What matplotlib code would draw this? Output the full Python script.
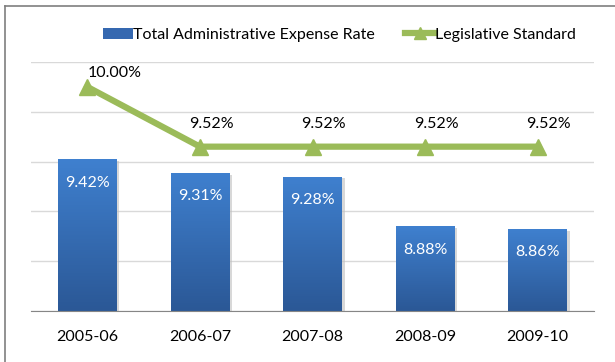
import numpy as np
import matplotlib
matplotlib.use("Agg")
import matplotlib.pyplot as plt
from matplotlib.lines import Line2D
from matplotlib.patches import Patch

plt.rcParams['font.family'] = ['Lato', 'DejaVu Sans']

years = ['2005-06', '2006-07', '2007-08', '2008-09', '2009-10']
expense_rate = [9.42, 9.31, 9.28, 8.88, 8.86]
legislative = [10.00, 9.52, 9.52, 9.52, 9.52]

bar_top = '#3F80CF'
bar_bottom = '#2B5896'
green = '#9BBB59'

fig = plt.figure(figsize=(6.15, 3.62), dpi=100)
ax = fig.add_axes([31 / 615, 1 - 311 / 362, 563 / 615, 249 / 362])

x = np.arange(len(years))
ax.set_xlim(-0.5, len(years) - 0.5)
ax.set_ylim(8.2, 10.2)
ax.set_yticks(np.arange(8.2, 10.21, 0.4))
ax.yaxis.grid(True, color='#D9D9D9', linewidth=1)
ax.set_axisbelow(True)
ax.tick_params(axis='y', left=False, labelleft=False)
ax.tick_params(axis='x', length=0, labelsize=11.5, pad=14)
ax.set_xticks(x)
ax.set_xticklabels(years)
for s in ['left', 'right', 'top']:
    ax.spines[s].set_visible(False)
ax.spines['bottom'].set_color('#868686')

# gradient bars
grad = np.linspace(0, 1, 100).reshape(-1, 1)
cmap = matplotlib.colors.LinearSegmentedColormap.from_list('b', [bar_bottom, bar_top])
bars = ax.bar(x, expense_rate, width=0.52, bottom=0, color='none', zorder=2)
for b in bars:
    bx, bw, bh = b.get_x(), b.get_width(), b.get_height()
    # soft shadow
    ax.bar(bx + bw / 2 + 0.025, bh - 0.015, width=bw, color='#BFBFBF', alpha=0.6, zorder=1.5)
    im = ax.imshow(grad, extent=[bx, bx + bw, 8.2, bh], origin='lower', aspect='auto',
                   cmap=cmap, zorder=2)
    im.set_clip_path(b)
    ax.text(bx + bw / 2, bh - 0.19, f'{bh:.2f}%', ha='center', va='center',
            color='white', fontsize=11.5, zorder=3)
ax.set_xlim(-0.5, len(years) - 0.5)
ax.set_ylim(8.2, 10.2)

ax.plot(x, legislative, color=green, linewidth=4.5, marker='^', markersize=11,
        zorder=4, clip_on=False)
offsets = [(20, 10), (8, 16), (8, 16), (8, 16), (8, 16)]
for xi, v, off in zip(x, legislative, offsets):
    ax.annotate(f'{v:.2f}%', (xi, v), xytext=off, textcoords='offset points',
                ha='center', va='center', fontsize=11.5, color='black', zorder=5)

# legend
handles = [Patch(facecolor='#3568B0', edgecolor='none'),
           Line2D([0], [0], color=green, linewidth=4.5, marker='^', markersize=9)]
fig.legend(handles, ['Total Administrative Expense Rate', 'Legislative Standard'],
           loc='center', bbox_to_anchor=(0.552, 1 - 35 / 362), ncol=2, frameon=False,
           fontsize=11.5, handlelength=1.9, handletextpad=0.0, columnspacing=1.9)

# outer frame (top and left edges)
fig.add_artist(Line2D([5 / 615, 1], [1 - 6 / 362, 1 - 6 / 362], color='#7F7F7F', linewidth=1.2))
fig.add_artist(Line2D([5 / 615, 5 / 615], [0, 1 - 6 / 362], color='#7F7F7F', linewidth=1.2))

fig.savefig('out.png', dpi=100)
